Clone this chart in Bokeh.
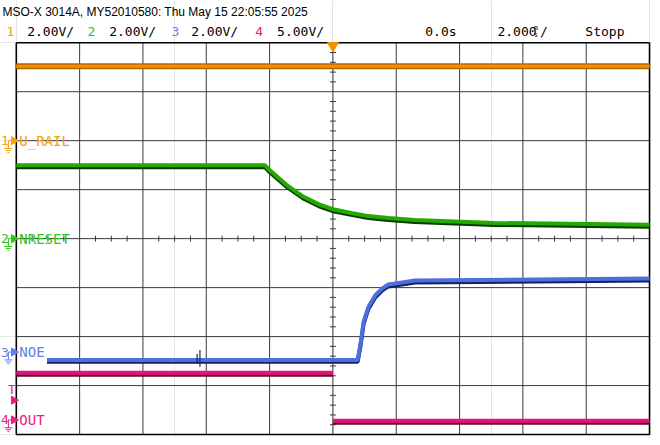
import numpy as np
from bokeh.plotting import figure
from bokeh.models import Range1d
from bokeh.core.properties import value
from bokeh.embed import file_html
from bokeh.resources import INLINE

# ---------------- data (time in ms, signal in V) ----------------
ch1_t = [-10.0, 10.0]
ch1_v = [3.04, 3.04]

ch2_t = [-10.0, -2.15, -2.0, -1.47, -0.94, -0.44, 0.0, 0.62, 1.12, 1.75, 2.59, 5.09, 10.0]
ch2_v = [3.0, 3.0, 2.8, 2.2, 1.72, 1.40, 1.20, 1.04, 0.92, 0.84, 0.76, 0.64, 0.57]

ch3_t = [-9.03, 0.78, 0.87, 0.97, 1.12, 1.34, 1.56, 1.75, 2.18, 2.59, 10.0]
ch3_v = [-0.32, -0.32, 0.32, 1.24, 1.84, 2.32, 2.60, 2.76, 2.84, 2.92, 3.0]
# short glitch on channel 3
ch3_spike_t = [-4.29, -4.20]
ch3_spike_lo = [-0.48, -0.60]
ch3_spike_hi = [-0.08, 0.08]

ch4_t = [-10.0, 0.0, np.nan, 0.0, 10.0]
ch4_v = [4.8, 4.8, np.nan, -0.1, -0.1]

ch_names = ["U_RAIL", "NRESET", "NOE", "OUT"]
ch_scale = [2.0, 2.0, 2.0, 5.0]          # V/div
ch_offset = [2.0, 0.0, -2.316, -3.70]     # ground position in divisions
scale_labels = ["2.00V/", "2.00V/", "2.00V/", "5.00V/"]
header = "MSO-X 3014A, MY52010580: Thu May 15 22:05:55 2025"
time_offset_label = "0.0s"
time_scale_label = "2.000"
run_state = "Stopp"

trace_core = ["#F39200", "#22AA00", "#4A6FE0", "#E6147A"]
trace_dark = ["#B86400", "#0B3A06", "#16225E", "#5E0A2C"]
text_col = ["#F5A00F", "#2EC41A", "#5F82EA", "#EC1C80"]

# ---------------- geometry helpers (reference pixels -> data) ----------------
PX_MS = 32.05
X0 = 336.5
PX_DIV = 49.875
Y0 = 242.5


def tx(X):
    return (X - X0) / PX_MS


def dy(Y):
    return (Y0 - Y) / PX_DIV


p = figure(width=652, height=437, output_backend="svg", toolbar_location=None,
           x_axis_location=None, y_axis_location=None, min_border=0,
           x_range=Range1d(tx(0), tx(660)), y_range=Range1d(dy(445), dy(0)),
           outline_line_color=None, background_fill_color="white",
           border_fill_color="white")

# ---------------- graticule ----------------
gx = np.arange(-8, 9, 2)
gy = np.arange(-3, 4, 1)
grid_col = "#3a3a3a"
p.segment(x0=gx, y0=-4, x1=gx, y1=4, line_color=grid_col, line_width=1)
p.segment(x0=-10, y0=gy, x1=10, y1=gy, line_color=grid_col, line_width=1)

mt = np.arange(-10, 10.01, 0.5)
mt = mt[np.abs(np.round(mt / 2) * 2 - mt) > 1e-6]
p.segment(x0=mt, y0=-3 / PX_DIV, x1=mt, y1=3 / PX_DIV, line_color=grid_col, line_width=1)
md = np.arange(-4, 4.01, 0.2)
md = md[np.abs(np.round(md) - md) > 1e-6]
p.segment(x0=-3 / PX_MS, y0=md, x1=3 / PX_MS, y1=md, line_color=grid_col, line_width=1)

p.segment(x0=[-10, 10, -10, -10], y0=[-4, -4, 4, -4], x1=[-10, 10, 10, 10], y1=[4, 4, 4, -4],
          line_color="black", line_width=1.6)

# ---------------- traces ----------------
series = [(ch1_t, ch1_v), (ch2_t, ch2_v), (ch3_t, ch3_v), (ch4_t, ch4_v)]
for i, (t, v) in enumerate(series):
    t = np.asarray(t, dtype=float)
    y = ch_offset[i] + np.asarray(v, dtype=float) / ch_scale[i]
    if i == 0:
        p.line(t, y, line_color=trace_dark[i], line_width=6)
        p.line(t, y, line_color=trace_core[i], line_width=3)
    else:
        p.line(t, y - 2 / PX_DIV, line_color=trace_dark[i], line_width=4)
        p.line(t, y, line_color=trace_core[i], line_width=4)

p.segment(x0=ch3_spike_t, x1=ch3_spike_t,
          y0=ch_offset[2] + np.asarray(ch3_spike_lo) / ch_scale[2],
          y1=ch_offset[2] + np.asarray(ch3_spike_hi) / ch_scale[2],
          line_color=trace_dark[2], line_width=1.2)

# ---------------- channel markers on the left ----------------
mono = value("DejaVu Sans Mono")
for i in range(4):
    yc = ch_offset[i]
    c = text_col[i]
    p.text(x=[tx(0.5)], y=[yc], text=[str(i + 1)], text_font=mono, text_font_size="13px",
           text_baseline="middle", text_align="left", text_color=c)
    p.scatter(x=[tx(13.5)], y=[yc], marker="triangle", angle=-np.pi / 2, size=8,
              fill_color=c, line_color=c)
    p.segment(x0=[tx(8), tx(8)], y0=[yc, yc], x1=[tx(11), tx(8)], y1=[yc, yc - 8 / PX_DIV],
              line_color=c, line_width=1)
    p.segment(x0=[tx(4), tx(5.5), tx(7)], y0=[yc - 8 / PX_DIV, yc - 10 / PX_DIV, yc - 12 / PX_DIV],
              x1=[tx(12), tx(10.5), tx(9)], y1=[yc - 8 / PX_DIV, yc - 10 / PX_DIV, yc - 12 / PX_DIV],
              line_color=c, line_width=1)
    p.text(x=[tx(19)], y=[yc], text=[ch_names[i]], text_font=mono, text_font_size="14px",
           text_baseline="middle", text_align="left", text_color=c)

# trigger level marker
p.text(x=[tx(11.5)], y=[dy(396)], text=["T"], text_font=mono, text_font_size="13px",
       text_baseline="middle", text_align="center", text_color=text_col[3])
p.scatter(x=[tx(13.5)], y=[dy(407)], marker="triangle", angle=-np.pi / 2, size=8,
          fill_color=text_col[3], line_color=text_col[3])

# trigger position marker
p.scatter(x=[0], y=[dy(46)], marker="inverted_triangle", size=11,
          fill_color="#F29100", line_color="#F29100")

# ---------------- header ----------------
p.text(x=[tx(2)], y=[dy(12)], text=[header], text_font=value("Liberation Sans"),
       text_font_size="12px", text_baseline="middle", text_align="left", text_color="black")

row_y = dy(32)
num_x = [6, 88, 173, 258]
lab_x = [27, 110, 193, 280]
for i in range(4):
    p.text(x=[tx(num_x[i])], y=[row_y], text=[str(i + 1)], text_font=mono, text_font_size="13px",
           text_baseline="middle", text_align="left", text_color=text_col[i])
    p.text(x=[tx(lab_x[i])], y=[row_y], text=[scale_labels[i]], text_font=mono,
           text_font_size="13px", text_baseline="middle", text_align="left", text_color="black")

p.text(x=[tx(430)], y=[row_y], text=[time_offset_label], text_font=mono, text_font_size="13px",
       text_baseline="middle", text_align="left", text_color="black")
p.text(x=[tx(503)], y=[row_y], text=[time_scale_label], text_font=mono, text_font_size="13px",
       text_baseline="middle", text_align="left", text_color="black")
p.text(x=[tx(542)], y=[dy(28)], text=["m"], text_font=mono, text_font_size="7px",
       text_baseline="middle", text_align="center", text_color="black")
p.text(x=[tx(542)], y=[dy(35)], text=["s"], text_font=mono, text_font_size="7px",
       text_baseline="middle", text_align="center", text_color="black")
p.text(x=[tx(546)], y=[row_y], text=["/"], text_font=mono, text_font_size="13px",
       text_baseline="middle", text_align="left", text_color="black")
p.text(x=[tx(592)], y=[row_y], text=[run_state], text_font=mono, text_font_size="13px",
       text_baseline="middle", text_align="left", text_color="black")

open("out.html", "w").write(file_html(p, INLINE))
